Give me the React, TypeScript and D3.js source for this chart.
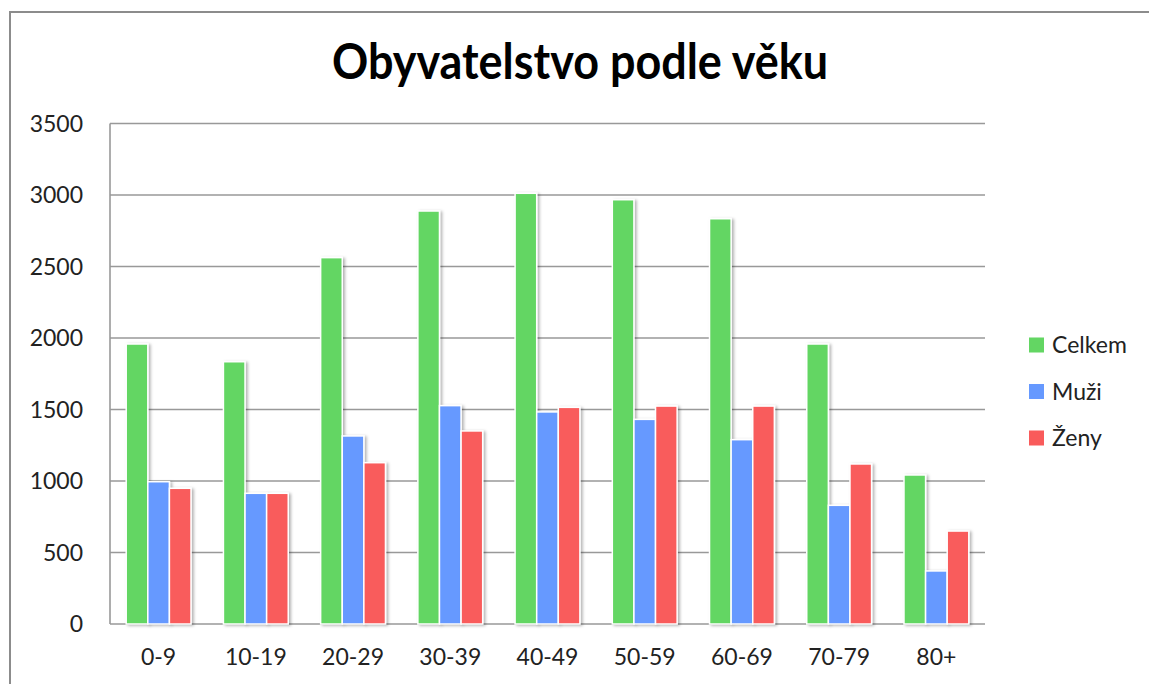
import React from "react";
import * as d3 from "d3";

const categories = ["0-9", "10-19", "20-29", "30-39", "40-49", "50-59", "60-69", "70-79", "80+"];
const celkem = [1958, 1834, 2562, 2888, 3012, 2967, 2834, 1958, 1042];
const muzi = [995, 914, 1315, 1527, 1483, 1431, 1289, 830, 371];
const zeny = [949, 914, 1128, 1350, 1515, 1524, 1524, 1119, 650];
const seriesNames = ["Celkem", "Muži", "Ženy"];
const seriesColors = ["#63d663", "#6699ff", "#f95b5b"];
const yTicks = [0, 500, 1000, 1500, 2000, 2500, 3000, 3500];
const title = "Obyvatelstvo podle věku";

const W = 1149;
const H = 684;
const plot = { left: 110, right: 985, top: 123.5, bottom: 624 };
const FONT = "Lato, 'Open Sans', sans-serif";

export default function App() {
  const seriesData = [celkem, muzi, zeny];
  const x = d3.scaleBand<string>().domain(categories).range([plot.left, plot.right]).paddingInner(0).paddingOuter(0);
  const y = d3.scaleLinear().domain([0, 3500]).range([plot.bottom, plot.top]);
  const bw = x.bandwidth();
  const barW = bw / 4.5;
  const gap = (bw - 3 * barW) / 2;

  return (
    <div style={{ position: "absolute", left: 0, top: 0, width: W, height: H, overflow: "hidden", background: "#fff" }}>
      <svg width={W} height={H} style={{ display: "block" }} fontFamily={FONT}>
        <defs>
          <filter id="shadow" x="-50%" y="-10%" width="200%" height="130%">
            <feDropShadow dx="2" dy="1" stdDeviation="1.6" floodColor="#000" floodOpacity="0.3" />
          </filter>
        </defs>
        <rect x={0} y={0} width={W} height={H} fill="#fff" />
        <rect x={10} y={12} width={W + 20} height={H + 20} fill="#fff" stroke="#8c8c8c" strokeWidth={2} />
        <text x={580} y={79} textAnchor="middle" fontSize={50} fontWeight="bold" fill="#000" textLength={496} lengthAdjust="spacingAndGlyphs">
          {title}
        </text>
        {yTicks.map((t) => (
          <g key={t}>
            <line x1={plot.left} x2={plot.right} y1={y(t)} y2={y(t)} stroke="#999" strokeWidth={1.6} />
            <text x={83} y={y(t)} dy="0.36em" textAnchor="end" fontSize={23} fill="#222">
              {t}
            </text>
          </g>
        ))}
        <line x1={plot.left} x2={plot.left} y1={plot.top} y2={plot.bottom} stroke="#999" strokeWidth={1.6} />
        {categories.map((c, i) => (
          <g key={c}>
            {seriesData.map((s, j) => (
              <rect
                key={j}
                x={(x(c) as number) + gap + j * barW}
                y={y(s[i])}
                width={barW}
                height={plot.bottom - y(s[i])}
                fill={seriesColors[j]}
                stroke="#fff"
                strokeWidth={1.5}
                filter="url(#shadow)"
              />
            ))}
            <text x={(x(c) as number) + bw / 2} y={665} textAnchor="middle" fontSize={23} fill="#222">
              {c}
            </text>
          </g>
        ))}
        {seriesNames.map((n, j) => (
          <g key={n} transform={`translate(1029, ${345 + j * 46.5})`}>
            <rect x={0} y={-7.5} width={15} height={15} fill={seriesColors[j]} />
            <text x={23} y={0} dy="0.36em" fontSize={23} fill="#222">
              {n}
            </text>
          </g>
        ))}
      </svg>
    </div>
  );
}
